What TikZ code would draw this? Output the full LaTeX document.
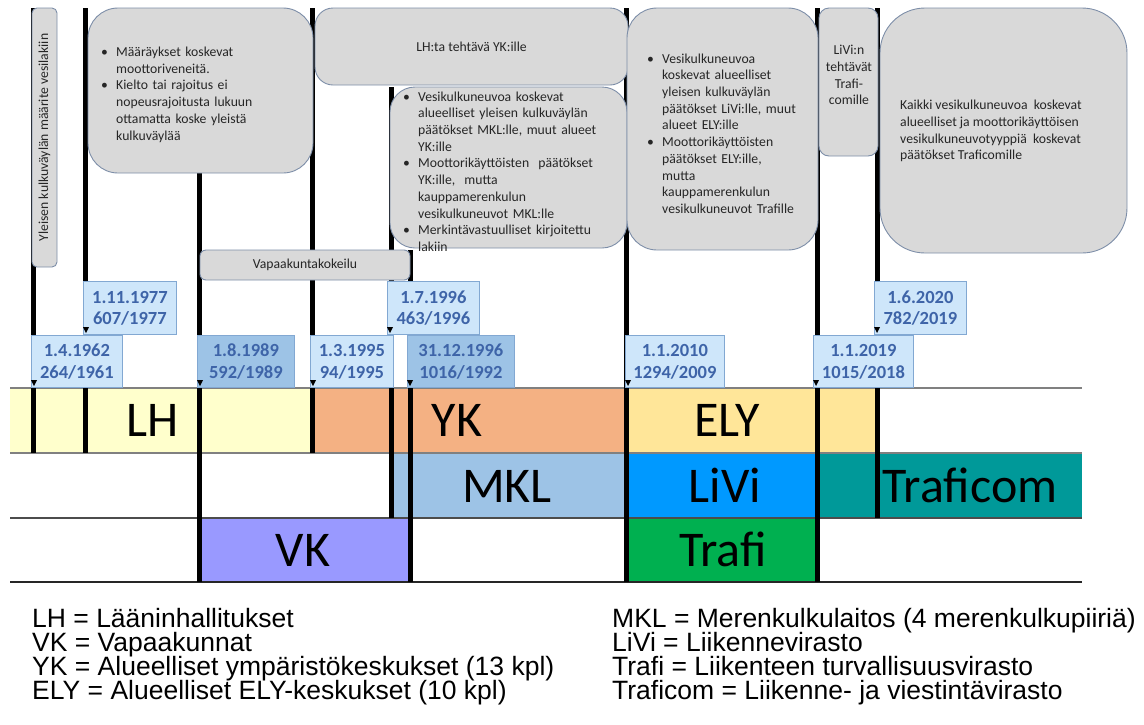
\documentclass[tikz,border=0pt]{standalone}
\usepackage{fontspec}
\setmainfont{Carlito}
\newfontfamily\legendfont{Liberation Sans}
\usetikzlibrary{calc}

\definecolor{lhcol}{RGB}{255,255,204}
\definecolor{ykcol}{RGB}{244,177,131}
\definecolor{elycol}{RGB}{255,230,153}
\definecolor{mklcol}{RGB}{157,195,230}
\definecolor{livicol}{RGB}{0,153,255}
\definecolor{traficomcol}{RGB}{0,153,153}
\definecolor{vkcol}{RGB}{153,153,255}
\definecolor{traficol}{RGB}{0,176,80}
\definecolor{boxfill}{RGB}{217,217,217}
\definecolor{boxline}{RGB}{125,142,168}
\definecolor{datefill}{RGB}{206,230,250}
\definecolor{darkfill}{RGB}{157,195,230}
\definecolor{dateline}{RGB}{130,168,210}
\definecolor{datetext}{RGB}{62,100,168}

\newcommand\calltext{\fontsize{13.7}{16.7}\selectfont}
\newenvironment{bullets}{\begin{list}{\textbullet}{%
  \setlength{\leftmargin}{15pt}\setlength{\labelwidth}{9pt}%
  \setlength{\labelsep}{6pt}\setlength{\itemsep}{0pt}%
  \setlength{\parsep}{0pt}\setlength{\topsep}{0pt}%
  \setlength{\partopsep}{0pt}\def\makelabel##1{##1\hfil}}}{\end{list}}

\begin{document}
\begin{tikzpicture}[x=1pt, y=-1pt,
    callout/.style={draw=boxline, fill=boxfill, line width=0.9pt, inner sep=0pt, font=\calltext, text=black!85},
    calltxt/.style={inner sep=0pt, font=\calltext, text=black!85},
    datebox/.style={draw=dateline, fill=datefill, line width=0.8pt, inner sep=0pt, anchor=south west,
        minimum height=52pt, align=center, text=datetext, font=\fontsize{18.5}{21.5}\selectfont\bfseries},
    darkdate/.style={datebox, fill=darkfill},
    vline/.style={line width=5pt},
    bandlabel/.style={anchor=base, font=\fontsize{50}{60}\selectfont},
    legend/.style={anchor=base west, inner sep=0pt, font=\legendfont\fontsize{26.5}{26.5}\selectfont}]
    \useasboundingbox (0,0) rectangle (1144,724);

    % Bands
    \fill[lhcol] (10,388) rectangle (312,453);
    \fill[ykcol] (312,388) rectangle (627,453);
    \fill[elycol] (627,388) rectangle (877,453);
    \fill[mklcol] (391,453) rectangle (627,518);
    \fill[livicol] (627,453) rectangle (817,518);
    \fill[traficomcol] (817,453) rectangle (1082,518);
    \fill[vkcol] (199,518) rectangle (410,582);
    \fill[traficol] (627,518) rectangle (817,582);
    \foreach \y/\c in {388/gray, 453/gray, 518/black!70, 582/black!85}
        \draw[\c, line width=1.3pt] (10,\y) -- (1082,\y);

    % Time lines
    \foreach \x/\ya/\yb in {33/8/453, 85/8/453, 199.5/173/582, 312/8/453, 391/87/518,
                            410/250/582, 626/8/582, 817/8/582, 877/8/518}
        \draw[vline] (\x,\ya) -- (\x,\yb);

    % Callouts
    \node[callout, rotate=90, minimum width=259pt, minimum height=25pt, rounded corners=5pt]
        (vesilaki) at (44.5,137.5) {Yleisen kulkuväylän määrite vesilakiin};
    \node[callout, minimum width=225pt, minimum height=165pt, rounded corners=30pt] (moottori) at (200.5,90.5) {};
    \node[calltxt, anchor=west, text width=180pt] (moottoritxt) at (101,91) {\begin{bullets}
        \item Määräykset koskevat\\ moottoriveneitä.
        \item Kielto tai rajoitus ei\\ nopeusrajoitusta lukuun\\ ottamatta koske yleistä\\ kulkuväylää
        \end{bullets}};
    \node[callout, minimum width=210pt, minimum height=30pt, rounded corners=6pt] (kokeilu) at (305,265) {Vapaakuntakokeilu};
    \node[callout, minimum width=313pt, minimum height=77pt, rounded corners=18pt] (lhyk) at (471.5,46.5) {LH:ta tehtävä YK:ille};
    \node[callout, minimum width=237pt, minimum height=161pt, rounded corners=25pt] (mklbox) at (508.5,167.5) {};
    \node[calltxt, anchor=west, text width=225pt] (mkltxt) at (403,168) {\begin{bullets}
        \item Vesikulkuneuvoa koskevat\\ alueelliset yleisen kulkuväylän\\ päätökset MKL:lle, muut alueet\\ YK:ille
        \item Moottorikäyttöisten\ \ päätökset\\ YK:ille,\ \ mutta\\ kauppamerenkulun\\ vesikulkuneuvot MKL:lle
        \item Merkintävastuulliset kirjoitettu\\ lakiin
        \end{bullets}};
    \node[callout, minimum width=191pt, minimum height=242pt, rounded corners=30pt] (elybox) at (722.5,129) {};
    \node[calltxt, anchor=west, text width=170pt] (elytxt) at (647,130) {\begin{bullets}
        \item Vesikulkuneuvoa\\ koskevat alueelliset\\ yleisen kulkuväylän\\ päätökset LiVi:lle, muut\\ alueet ELY:ille
        \item Moottorikäyttöisten\\ päätökset ELY:ille,\\ mutta\\ kauppamerenkulun\\ vesikulkuneuvot Trafille
        \end{bullets}};
    \node[callout, minimum width=59pt, minimum height=148pt, rounded corners=10pt] (livibox) at (848.5,82) {};
    \node[calltxt, align=center] (livitxt) at (849,75) {LiVi:n\\ tehtävät\\ Trafi-\\ comille};
    \node[callout, minimum width=247pt, minimum height=245pt, rounded corners=45pt] (kaikki) at (1003.5,130.5) {};
    \node[calltxt, anchor=west, align=left] (kaikkitxt) at (900,131) {Kaikki vesikulkuneuvoa\ \ koskevat\\
        alueelliset ja moottorikäyttöisen\\ vesikulkuneuvotyyppiä\ \ koskevat\\ päätökset Traficomille};

    % Dates and laws
    \node[datebox, minimum width=91pt] (d1962) at (31,388) {1.4.1962\\264/1961};
    \node[datebox, minimum width=93pt, minimum height=53pt] (d1977) at (83,335) {1.11.1977\\607/1977};
    \node[darkdate, minimum width=97pt] (d1989) at (197,388) {1.8.1989\\592/1989};
    \node[datebox, minimum width=83pt] (d1995) at (310,388) {1.3.1995\\94/1995};
    \node[datebox, minimum width=92pt, minimum height=53pt] (d1996) at (387,335) {1.7.1996\\463/1996};
    \node[darkdate, minimum width=107pt] (d1996b) at (407,388) {31.12.1996\\1016/1992};
    \node[datebox, minimum width=99pt] (d2010) at (625,388) {1.1.2010\\1294/2009};
    \node[datebox, minimum width=100pt] (d2019) at (813,388) {1.1.2019\\1015/2018};
    \node[datebox, minimum width=92pt, minimum height=53pt] (d2020) at (874,335) {1.6.2020\\782/2019};
    \foreach \d in {d1962, d1977, d1989, d1995, d1996, d1996b, d2010, d2019, d2020}
        \fill ($(\d.south west)+(3,-2)$) -- ++(-3,-6) -- ++(6,0) -- cycle;

    % Band names
    \node[bandlabel] (lh) at (153,436) {LH};
    \node[bandlabel] (yk) at (457,436) {YK};
    \node[bandlabel] (ely) at (727,436) {ELY};
    \node[bandlabel] (mkl) at (507,502) {MKL};
    \node[bandlabel] (livi) at (725,502) {LiVi};
    \node[bandlabel] (traficom) at (970,502) {Traficom};
    \node[bandlabel] (vk) at (303,566) {VK};
    \node[bandlabel] (trafi) at (723,566) {Trafi};

    % Legend
    \foreach \t [count=\i] in {LH = Lääninhallitukset, VK = Vapaakunnat,
            YK = Alueelliset ympäristökeskukset (13 kpl), ELY = Alueelliset ELY-keskukset (10 kpl)}
        \node[legend] (legl\i) at (32,603+24*\i) {\t};
    \foreach \t [count=\i] in {MKL = Merenkulkulaitos (4 merenkulkupiiriä), LiVi = Liikennevirasto,
            Trafi = Liikenteen turvallisuusvirasto, Traficom = Liikenne- ja viestintävirasto}
        \node[legend] (legr\i) at (612,603+24*\i) {\t};
\end{tikzpicture}
\end{document}
